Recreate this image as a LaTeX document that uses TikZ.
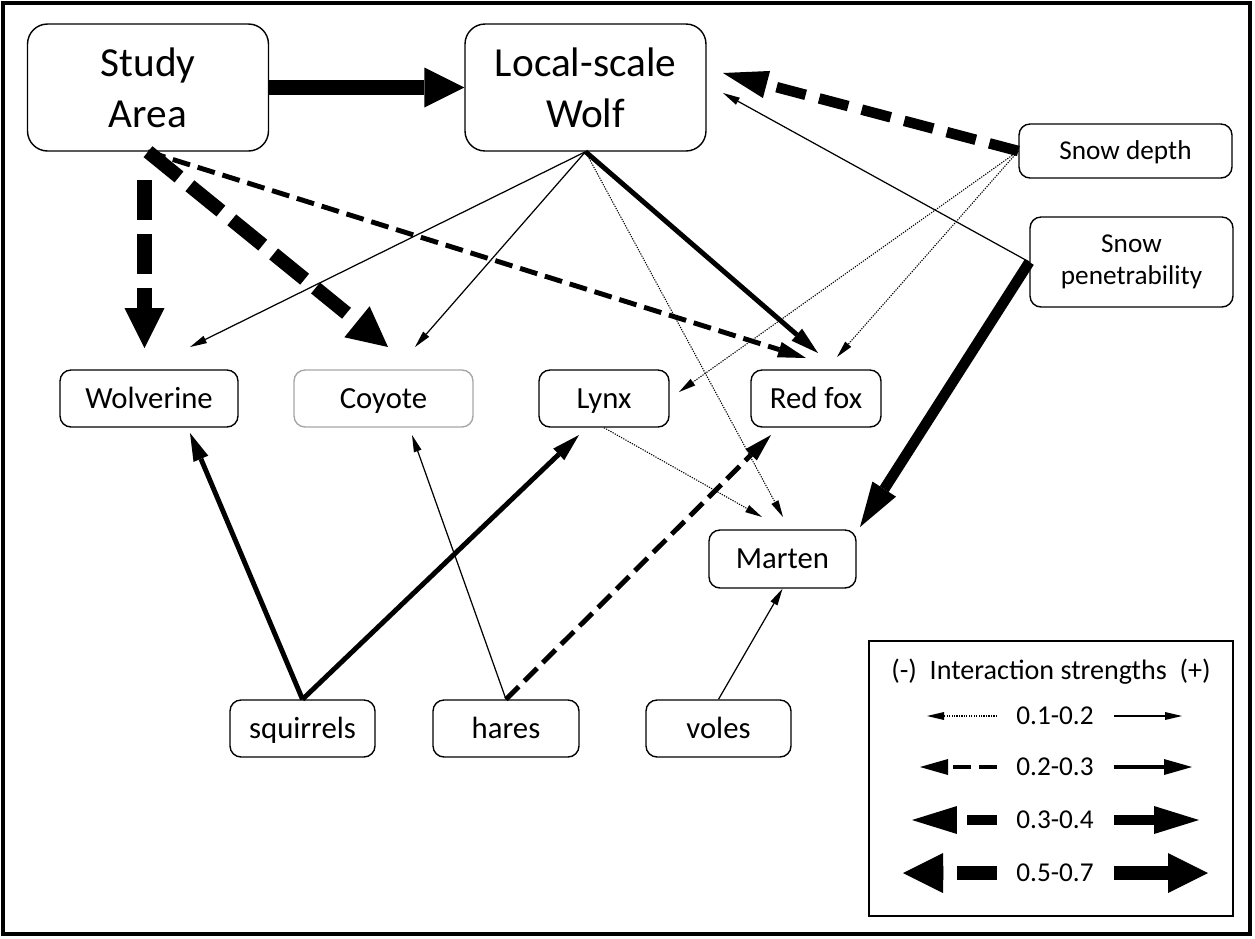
\documentclass[tikz,border=0pt]{standalone}
\usepackage{fontspec}
\setmainfont{Carlito}
\usetikzlibrary{arrows.meta}

\tikzset{
	box/.style={draw, line width=0.8pt, rounded corners=0.22cm, align=center, inner sep=0pt, minimum height=1.14cm, font=\fontsize{17.5}{21}\selectfont},
	small/.style={box, text height=11.3pt, text depth=0pt},
	bigbox/.style={box, rounded corners=0.4cm, minimum width=4.82cm, minimum height=2.54cm, font=\fontsize{23.5}{29}\selectfont},
	snowbox/.style={box, font=\fontsize{15.5}{18}\selectfont},
	tipa/.style={-{Triangle[length=0.34cm,width=0.16cm,line width=0pt]}},
	tipb/.style={-{Triangle[length=0.56cm,width=0.32cm,line width=0pt]}},
	tipc/.style={-{Triangle[length=0.9cm,width=0.56cm,line width=0pt]}},
	tipd/.style={-{Triangle[length=0.8cm,width=0.8cm,line width=0pt]}},
	neg1/.style={tipa, line width=0.6pt, dash pattern=on 0.7pt off 0.7pt},
	pos1/.style={tipa, line width=0.7pt},
	neg2/.style={tipb, line width=2.8pt, dash pattern=on 0.36cm off 0.16cm},
	pos2/.style={tipb, line width=2.8pt},
	neg3/.style={tipc, line width=6pt, dash pattern=on 0.6cm off 0.28cm},
	pos3/.style={tipc, line width=6pt},
	neg4/.style={tipd, line width=8pt, dash pattern=on 0.8cm off 0.28cm},
	pos4/.style={tipd, line width=8pt},
}

\begin{document}
\begin{tikzpicture}[x=0.02cm,y=-0.02cm]
	\useasboundingbox (0,0) rectangle (1255,938);
	\draw[line width=2.8pt] (3,3) rectangle (1250,934);
	
	\path (148,87.5) node[bigbox] (study) {Study\\Area};
	\path (585.5,87.5) node[bigbox] (wolf) {Local-scale\\Wolf};
	\path (1125.5,151) node[snowbox, text height=10pt, text depth=0pt, minimum width=4.26cm, minimum height=1.08cm] (sdepth) {Snow depth};
	\path (1131.5,262) node[snowbox, minimum width=4.06cm, minimum height=1.8cm] (spen) {Snow\\penetrability};
	\path (149,398.5) node[small, minimum width=3.56cm] (wolverine) {Wolverine};
	\path (383.5,398.5) node[small, draw=gray!70, minimum width=3.58cm] (coyote) {Coyote};
	\path (604,398.5) node[small, minimum width=2.6cm] (lynx) {Lynx};
	\path (816,398.5) node[small, minimum width=2.6cm] (fox) {Red fox};
	\path (782.5,559) node[small, minimum width=2.94cm, minimum height=1.16cm] (marten) {Marten};
	\path (302.5,728.5) node[small, minimum width=2.9cm] (squirrels) {squirrels};
	\path (506,728.5) node[small, minimum width=2.92cm] (hares) {hares};
	\path (718.5,728.5) node[small, minimum width=2.9cm] (voles) {voles};
	
	\coordinate (study-v) at (144.5,180);
	\coordinate (wolverine-v) at (144.5,348);
	\coordinate (wolverine-w) at (190,347);
	\coordinate (wolverine-s) at (190,433);
	\coordinate (coyote-s) at (388,347);
	\coordinate (coyote-w) at (415,347);
	\coordinate (coyote-h) at (412,435);
	\coordinate (lynx-d) at (679,392);
	\coordinate (lynx-s) at (579,435);
	\coordinate (fox-s) at (806,358);
	\coordinate (fox-w) at (818,353);
	\coordinate (fox-d) at (837,357);
	\coordinate (fox-h) at (771,435);
	\coordinate (marten-w) at (783,517);
	\coordinate (marten-l) at (762,517);
	\coordinate (marten-p) at (860,527);
	\coordinate (wolf-d) at (723,73);
	\coordinate (wolf-p) at (723,93);
	
	\draw[pos4] (study.east) -- (wolf.west);
	\draw[neg4] (study-v) -- (wolverine-v);
	\draw[neg4] (study.south) -- (coyote-s);
	\draw[neg2] (study.south) -- (fox-s);
	\draw[pos1] (wolf.south) -- (wolverine-w);
	\draw[pos1] (wolf.south) -- (coyote-w);
	\draw[neg1] (wolf.south) -- (marten-w);
	\draw[pos2] (wolf.south) -- (fox-w);
	\draw[neg3] (sdepth.west) -- (wolf-d);
	\draw[neg1] (sdepth.west) -- (lynx-d);
	\draw[neg1] (sdepth.west) -- (fox-d);
	\draw[pos1] (spen.west) -- (wolf-p);
	\draw[pos3] (spen.west) -- (marten-p);
	\draw[neg1] (lynx.south) -- (marten-l);
	\draw[pos2] (squirrels.north) -- (wolverine-s);
	\draw[pos2] (squirrels.north) -- (lynx-s);
	\draw[pos1] (hares.north) -- (coyote-h);
	\draw[neg2] (hares.north) -- (fox-h);
	\draw[pos1] (voles.north) -- (marten.south);
	
	\draw[line width=0.8pt] (869,641) rectangle (1233,916);
	\path (1051,672) node[font=\fontsize{16}{18}\selectfont] (ltitle) {(-)\ \ Interaction strengths\ \ (+)};
	\path (1055,716) node[font=\fontsize{15.5}{18}\selectfont] (l1) {0.1-0.2};
	\path (1055,767) node[font=\fontsize{15.5}{18}\selectfont] (l2) {0.2-0.3};
	\path (1055,820) node[font=\fontsize{15.5}{18}\selectfont] (l3) {0.3-0.4};
	\path (1055,873) node[font=\fontsize{15.5}{18}\selectfont] (l4) {0.5-0.7};
	\draw[neg1] (997,716) -- (927,716);
	\draw[neg2] (997,767) -- (920,767);
	\draw[neg3] (997,820) -- (912,820);
	\draw[neg4] (997,873) -- (903,873);
	\draw[pos1] (1114,716) -- (1182,716);
	\draw[pos2] (1114,767) -- (1192,767);
	\draw[pos3] (1114,820) -- (1199,820);
	\draw[pos4] (1114,873) -- (1208,873);
\end{tikzpicture}
\end{document}
